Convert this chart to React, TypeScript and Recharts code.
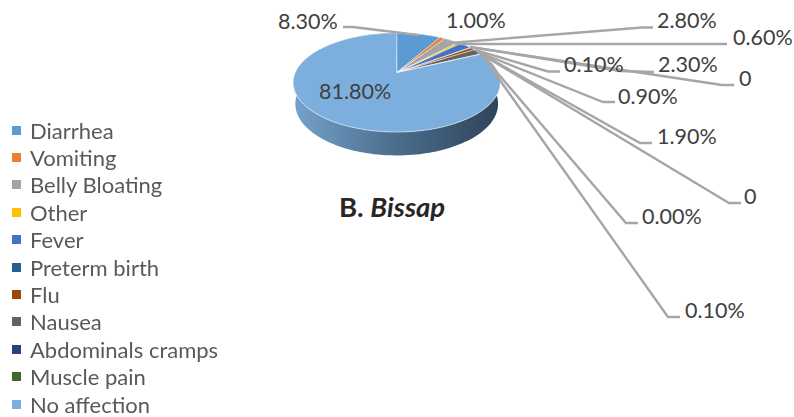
import React from 'react';
import { PieChart, Pie, Legend } from 'recharts';

const categories = ['Diarrhea', 'Vomiting', 'Belly Bloating', 'Other', 'Fever', '', 'Preterm birth', 'Flu', 'Nausea', '', 'Abdominals cramps', 'Muscle pain', 'No affection'];
const values = [8.3, 1.0, 2.8, 0.6, 2.3, 0, 0.1, 0.9, 1.9, 0, 0, 0.1, 81.8];
const valueLabels = ['8.30%', '1.00%', '2.80%', '0.60%', '2.30%', '0', '0.10%', '0.90%', '1.90%', '0', '0.00%', '0.10%', '81.80%'];
const colors = ['#5B9BD5', '#ED7D31', '#A5A5A5', '#FFC000', '#4472C4', '#70AD47', '#255E91', '#9E480E', '#636363', '#997300', '#264478', '#43682B', '#7CAFDD'];

// label layout: text start x, text baseline y, leader polyline (empty = no leader)
const labelX = [278, 446, 657, 733, 658, 739, 564, 618, 657, 744, 642, 685, 319];
const labelY = [29, 28, 28, 45, 72, 86, 72, 104, 144, 204, 224, 318, 99];
const leaders = [
  '343,27 353,27 418,35',
  '',
  '653,27.5 642,27.5 450,43',
  '727,44 455,44',
  '654,72 620,71 470,47',
  '734,85 722,85 470,47',
  '560,71.5 548,71.5 475,50',
  '615,102 603,102 478,52',
  '652,143 640,143 478,52',
  '741,203 729,203 478,52',
  '638,223 626,223 482,55',
  '680,317 668,317 482,55',
  '',
];

const rows = categories.map((name, i) => ({ name, value: values[i], fill: colors[i] }));

const FONT = 'Lato, "Open Sans", sans-serif';
const CX = 396.7;
const CY = 72.7;
const R = 100;

// Tilted-disc projection with perspective: angle in recharts degrees
function project(cx: number, cy: number, r: number, deg: number, lower: boolean) {
  const a = (deg * Math.PI) / 180;
  const u = Math.cos(a);
  const v = Math.sin(a);
  const w = 1 + 0.198 * v;
  const x = (r * 1.014 * u) / w;
  const y = (-r * 0.476 * v) / w;
  return lower ? [cx + x * 0.98, cy + y * 1.04 + 21] : [cx + x, cy + y];
}

function arc(p: any, lower: boolean) {
  const n = Math.max(2, Math.ceil(Math.abs(p.endAngle - p.startAngle) / 2));
  const pts: number[][] = [];
  for (let i = 0; i <= n; i++) {
    const d = p.startAngle + ((p.endAngle - p.startAngle) * i) / n;
    pts.push(project(p.cx, p.cy, p.outerRadius, d, lower));
  }
  return pts;
}

const toD = (pts: number[][]) => pts.map((q, i) => `${i ? 'L' : 'M'}${q[0].toFixed(2)},${q[1].toFixed(2)}`).join('') + 'Z';

const FaceShape = (p: any) => {
  if (Math.abs(p.endAngle - p.startAngle) < 0.001) return <g />;
  return <path d={toD([[p.cx, p.cy], ...arc(p, false)])} fill={p.fill} stroke="#ffffff" strokeWidth={0.5} />;
};

const WallShape = (p: any) => {
  if (Math.abs(p.endAngle - p.startAngle) < 0.001) return <g />;
  return <path d={toD([...arc(p, false), ...arc(p, true).reverse()])} fill="url(#wallGradient)" stroke="none" />;
};

const renderLabel = (p: any) => {
  const i = p.index;
  return (
    <g key={i}>
      {leaders[i] ? <polyline points={leaders[i]} fill="none" stroke="#A6A6A6" strokeWidth={2.4} /> : null}
      <text x={labelX[i]} y={labelY[i]} fontFamily={FONT} fontSize={21.5} fill="#404040" textAnchor="start">
        {valueLabels[i]}
      </text>
    </g>
  );
};

const renderLegend = (props: any) => {
  const seen = new Set<string>();
  const items = (props.payload || []).filter((e: any) => {
    if (!e.value || seen.has(e.value)) return false;
    seen.add(e.value);
    return true;
  });
  return (
    <div>
      {items.map((e: any) => (
        <div key={e.value} style={{ height: 27.4, display: 'flex', alignItems: 'center', fontFamily: FONT, fontSize: 22, color: '#595959', whiteSpace: 'nowrap' }}>
          <span style={{ width: 9, height: 9, background: e.color, marginLeft: 12, marginRight: 9, flex: 'none' }} />
          {e.value}
        </div>
      ))}
    </div>
  );
};

export default function App() {
  return (
    <div style={{ position: 'fixed', left: 0, top: 0, width: 794, height: 417, background: '#fff' }}>
      <PieChart width={794} height={417} margin={{ top: 0, right: 0, bottom: 0, left: 0 }}>
        <defs>
          <linearGradient id="wallGradient" gradientUnits="userSpaceOnUse" x1={293} y1={0} x2={500} y2={0}>
            <stop offset="0" stopColor="#75A3CC" />
            <stop offset="0.5" stopColor="#4B6D8C" />
            <stop offset="1" stopColor="#2E4359" />
          </linearGradient>
        </defs>
        <Pie data={rows} dataKey="value" nameKey="name" cx={CX} cy={CY} outerRadius={R} startAngle={90} endAngle={-270} isAnimationActive={false} legendType="none" shape={WallShape} label={false} labelLine={false} />
        <Pie data={rows} dataKey="value" nameKey="name" cx={CX} cy={CY} outerRadius={R} startAngle={90} endAngle={-270} isAnimationActive={false} legendType="square" shape={FaceShape} label={renderLabel} labelLine={false} />
        <Legend layout="vertical" align="center" verticalAlign="middle" itemSorter={null} content={renderLegend} wrapperStyle={{ position: 'absolute', left: 0, top: 116.5, width: 240, height: 300, transform: 'none' }} />
        <text x={339} y={217} fontFamily={FONT} fontSize={27.5} fontWeight={700} fill="#262626">
          B. <tspan fontStyle="italic">Bissap</tspan>
        </text>
      </PieChart>
    </div>
  );
}
